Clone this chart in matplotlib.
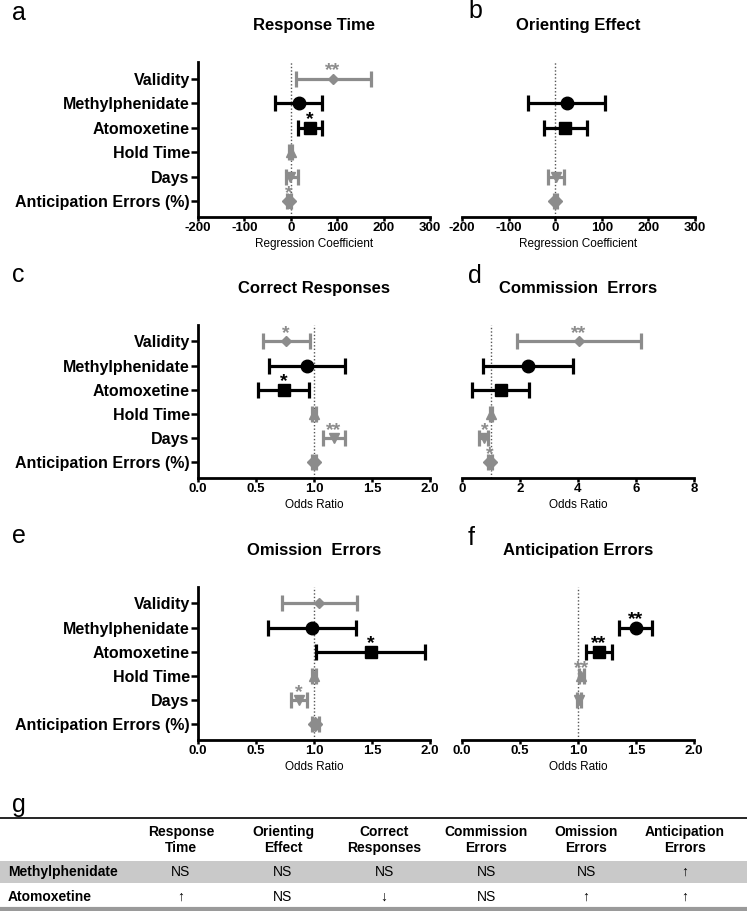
import numpy as np
import matplotlib
matplotlib.use('Agg')
import matplotlib.pyplot as plt
from matplotlib.lines import Line2D
from matplotlib.patches import Rectangle

plt.rcParams['font.family'] = ['Liberation Sans', 'DejaVu Sans']

W, H = 747, 911
nan = np.nan

# predictors (rows of every forest plot, top to bottom)
predictors = ['Validity', 'Methylphenidate', 'Atomoxetine', 'Hold Time', 'Days', 'Anticipation Errors (%)']
row_markers = ['D', 'o', 's', '^', 'v', 'D']
row_msize = [5.5, 9, 9, 7, 7, 7]
row_colors = ['#8c8c8c', 'black', 'black', '#8c8c8c', '#8c8c8c', '#8c8c8c']

# a - response time (regression coefficient)
rt_est = [90, 17, 41, 0, -2, -4]
rt_lo = [11, -34, 15, -3, -11, -8]
rt_hi = [172, 67, 67, 3, 15, 0]
rt_sig = ['**', '', '*', '', '', '*']

# b - orienting effect (regression coefficient)
oe_est = [nan, 26, 21, nan, 2, 0]
oe_lo = [nan, -58, -24, nan, -15, -3]
oe_hi = [nan, 107, 68, nan, 19, 3]
oe_sig = ['', '', '', '', '', '']

# c - correct responses (odds ratio)
cr_est = [0.76, 0.94, 0.74, 1.0, 1.17, 1.0]
cr_lo = [0.56, 0.61, 0.52, 0.98, 1.08, 0.98]
cr_hi = [0.965, 1.27, 0.96, 1.02, 1.27, 1.02]
cr_sig = ['*', '', '*', '', '**', '']

# d - commission errors (odds ratio)
ce_est = [4.03, 2.28, 1.35, 1.0, 0.77, 0.97]
ce_lo = [1.9, 0.72, 0.35, 0.95, 0.57, 0.9]
ce_hi = [6.17, 3.83, 2.31, 1.05, 0.9, 1.04]
ce_sig = ['**', '', '', '', '*', '*']

# e - omission errors (odds ratio)
om_est = [1.04, 0.98, 1.49, 1.0, 0.87, 1.01]
om_lo = [0.72, 0.6, 1.02, 0.98, 0.8, 0.98]
om_hi = [1.37, 1.36, 1.96, 1.02, 0.94, 1.04]
om_sig = ['', '', '*', '', '*', '']

# f - anticipation errors (odds ratio)
ae_est = [nan, 1.5, 1.18, 1.03, 1.01, nan]
ae_lo = [nan, 1.35, 1.07, 1.01, 0.99, nan]
ae_hi = [nan, 1.64, 1.29, 1.05, 1.03, nan]
ae_sig = ['', '**', '**', '**', '', '']

# g - summary table
table_cols = ['Response\nTime', 'Orienting\nEffect', 'Correct\nResponses',
              'Commission\nErrors', 'Omission\nErrors', 'Anticipation\nErrors']
table_rows = ['Methylphenidate', 'Atomoxetine']
table_vals = [['NS', 'NS', 'NS', 'NS', 'NS', '\u2191'],
              ['\u2191', 'NS', '\u2193', 'NS', '\u2191', '\u2191']]

fig = plt.figure(figsize=(W / 100, H / 100), dpi=100)


def px_axes(l, t, r, b):
    return fig.add_axes([l / W, 1 - b / H, (r - l) / W, (b - t) / H])


panels = [
    ('a', 'Response Time', 'Regression Coefficient', 0, (-200, 300), np.arange(-200, 301, 100), '%d',
     (198, 62, 430, 217), True, rt_est, rt_lo, rt_hi, rt_sig),
    ('b', 'Orienting Effect', 'Regression Coefficient', 0, (-200, 300), np.arange(-200, 301, 100), '%d',
     (462, 62, 695, 217), False, oe_est, oe_lo, oe_hi, oe_sig),
    ('c', 'Correct Responses', 'Odds Ratio', 1, (0, 2), np.arange(0, 2.01, 0.5), '%.1f',
     (198, 325, 430, 478), True, cr_est, cr_lo, cr_hi, cr_sig),
    ('d', 'Commission  Errors', 'Odds Ratio', 1, (0, 8), np.arange(0, 8.1, 2), '%d',
     (462, 325, 694, 478), False, ce_est, ce_lo, ce_hi, ce_sig),
    ('e', 'Omission  Errors', 'Odds Ratio', 1, (0, 2), np.arange(0, 2.01, 0.5), '%.1f',
     (198, 587, 430, 740), True, om_est, om_lo, om_hi, om_sig),
    ('f', 'Anticipation Errors', 'Odds Ratio', 1, (0, 2), np.arange(0, 2.01, 0.5), '%.1f',
     (462, 587, 694, 740), False, ae_est, ae_lo, ae_hi, ae_sig),
]

letter_pos = {'a': (12, 20), 'b': (468, 18), 'c': (12, 282), 'd': (468, 283),
              'e': (12, 543), 'f': (468, 545)}

for letter, title, xlabel, ref, xlim, xticks, fmt, box, show_y, est, lo, hi, sig in panels:
    ax = px_axes(*box)
    ax.axvline(ref, color='#555555', ls=(0, (1, 1.5)), lw=1, zorder=1)
    for i in range(len(predictors)):
        if np.isnan(est[i]):
            continue
        err = [[est[i] - lo[i]], [hi[i] - est[i]]]
        ax.errorbar([est[i]], [i], xerr=err, fmt=row_markers[i], color=row_colors[i],
                    ms=row_msize[i], elinewidth=2.3, capsize=6, capthick=2.3, zorder=3)
        if sig[i]:
            ax.text(est[i], i + 0.03, sig[i], color=row_colors[i], ha='center', va='bottom',
                    fontsize=14, fontweight='bold', zorder=4)
    ax.set_xlim(*xlim)
    ax.set_ylim(5.65, -0.68)
    ax.set_xticks(xticks)
    ax.set_xticklabels([fmt % v for v in xticks], fontsize=9.5, fontweight='bold')
    ax.tick_params(axis='x', length=3, width=1.8, pad=0.5)
    ax.spines['top'].set_visible(False)
    ax.spines['right'].set_visible(False)
    ax.spines['bottom'].set_linewidth(2)
    if show_y:
        ax.spines['left'].set_linewidth(2)
        ax.set_yticks(range(len(predictors)))
        ax.set_yticklabels(predictors, fontsize=11.5, fontweight='bold')
        ax.tick_params(axis='y', length=5, width=1.8, pad=1)
    else:
        ax.spines['left'].set_visible(False)
        ax.set_yticks([])
    ax.set_xlabel(xlabel, fontsize=8.5, labelpad=3)
    ax.set_title(title, fontsize=12, fontweight='bold', pad=23)
    lx, ly = letter_pos[letter]
    fig.text(lx / W, 1 - ly / H, letter, fontsize=18, ha='left', va='baseline')

# table g
tax = fig.add_axes([0, 0, 1, 1], zorder=-1)
tax.set_xlim(0, W)
tax.set_ylim(H, 0)
tax.axis('off')
fig.text(12 / W, 1 - 812 / H, 'g', fontsize=18, ha='left', va='baseline')

narrow = ['Liberation Sans Narrow', 'Liberation Sans', 'DejaVu Sans']
col_x = [181, 283, 384, 486, 586, 685]
row_y = [872, 897]

tax.add_line(Line2D([0, W], [818, 818], color='black', lw=1.2))
tax.add_patch(Rectangle((0, 861), W, 22, color='#c9c9c9', lw=0))
tax.add_line(Line2D([0, W], [909, 909], color='#9a9a9a', lw=3))

for x, name in zip(col_x, table_cols):
    tax.text(x, 840, name, ha='center', va='center', fontsize=10, fontweight='bold',
             family=narrow, linespacing=1.2)
for y, rname, vals in zip(row_y, table_rows, table_vals):
    tax.text(8, y, rname, ha='left', va='center', fontsize=10, fontweight='bold', family=narrow)
    for x, v in zip(col_x, vals):
        tax.text(x, y, v, ha='center', va='center', fontsize=10, family=narrow)

fig.savefig('out.png', dpi=100)
